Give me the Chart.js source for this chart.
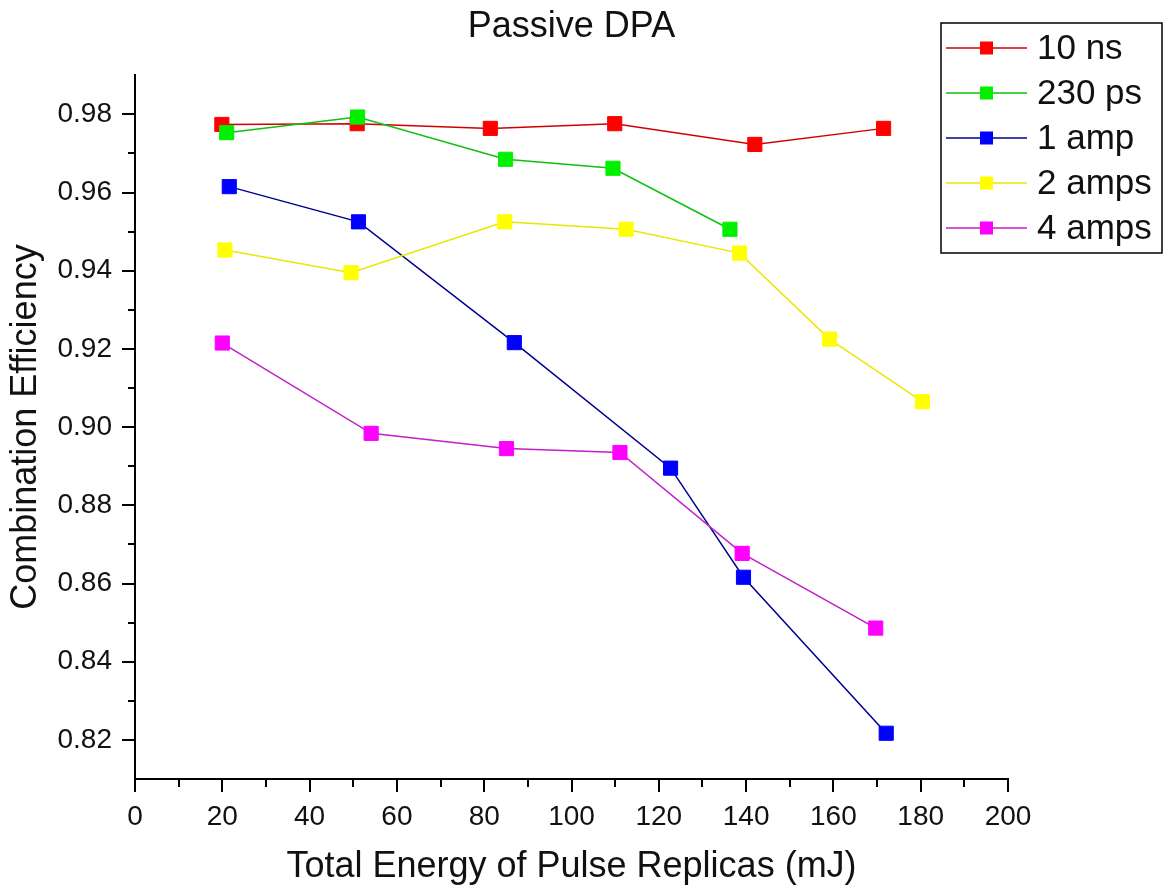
<!DOCTYPE html>
<html>
<head>
<meta charset="utf-8">
<title>Passive DPA</title>
<script src="https://cdn.jsdelivr.net/npm/chart.js@4.4.1/dist/chart.umd.min.js"></script>
<style>
    html, body { margin: 0; padding: 0; background: #fff; }
    canvas { display: block; }
</style>
</head>
<body>
<canvas id="dpaChart" width="1165" height="890"></canvas>
<script>
// Dữ liệu
const seriesLabels = ['10 ns', '230 ps', '1 amp', '2 amps', '4 amps'];

const ns10X = [19.9, 50.9, 81.4, 109.9, 142.0, 171.5];
const ns10Y = [0.9774, 0.9776, 0.9764, 0.9776, 0.9723, 0.9764];

const ps230X = [21.0, 51.0, 84.9, 109.5, 136.3];
const ps230Y = [0.9753, 0.9793, 0.9685, 0.9662, 0.9506];

const amp1X = [21.6, 51.2, 86.9, 122.7, 139.4, 172.1];
const amp1Y = [0.9615, 0.9525, 0.9216, 0.8895, 0.8616, 0.8217];

const amps2X = [20.6, 49.5, 84.7, 112.5, 138.5, 159.1, 180.4];
const amps2Y = [0.9453, 0.9395, 0.9525, 0.9506, 0.9445, 0.9225, 0.9065];

const amps4X = [20.0, 54.1, 85.1, 111.1, 139.1, 169.7];
const amps4Y = [0.9215, 0.8984, 0.8945, 0.8935, 0.8677, 0.8486];

// Vạch chia trục
const xTicks = [0, 20, 40, 60, 80, 100, 120, 140, 160, 180, 200];
const xMinorTicks = [10, 30, 50, 70, 90, 110, 130, 150, 170, 190];
const yTicks = [0.82, 0.84, 0.86, 0.88, 0.90, 0.92, 0.94, 0.96, 0.98];
const yMinorTicks = [0.83, 0.85, 0.87, 0.89, 0.91, 0.93, 0.95, 0.97];

const FONT = "'Liberation Sans', Arial, sans-serif";

function toPoints(xs, ys) {
    return xs.map((x, i) => ({ x: x, y: ys[i] }));
}

function makeSeries(label, xs, ys, lineColor, markColor, order) {
    return {
        label: label,
        data: toPoints(xs, ys),
        borderColor: lineColor,
        backgroundColor: markColor,
        borderWidth: 1.5,
        pointStyle: 'rect',
        pointRadius: 10,
        pointBackgroundColor: markColor,
        pointBorderColor: markColor,
        pointBorderWidth: 1,
        tension: 0,
        order: order
    };
}

// Vạch chia phụ (minor ticks)
const minorTicksPlugin = {
    id: 'minorTicks',
    afterDraw(chart) {
        const ctx = chart.ctx;
        const xs = chart.scales.x;
        const ys = chart.scales.y;
        ctx.save();
        ctx.strokeStyle = '#000';
        ctx.lineWidth = 2;
        ctx.beginPath();
        xMinorTicks.forEach(v => {
            const px = Math.round(xs.getPixelForValue(v));
            ctx.moveTo(px, xs.top);
            ctx.lineTo(px, xs.top + 8);
        });
        yMinorTicks.forEach(v => {
            const py = Math.round(ys.getPixelForValue(v));
            ctx.moveTo(ys.right, py);
            ctx.lineTo(ys.right - 7, py);
        });
        ctx.stroke();
        ctx.restore();
    }
};

// Chú thích dạng hộp ở góc trên bên phải
const boxLegendPlugin = {
    id: 'boxLegend',
    afterDraw(chart) {
        const ctx = chart.ctx;
        const box = { left: 941, top: 23, right: 1162, bottom: 253 };
        ctx.save();
        ctx.fillStyle = '#fff';
        ctx.fillRect(box.left, box.top, box.right - box.left, box.bottom - box.top);
        ctx.strokeStyle = '#000';
        ctx.lineWidth = 1.5;
        ctx.strokeRect(box.left, box.top, box.right - box.left, box.bottom - box.top);

        ctx.font = '35px ' + FONT;
        ctx.textBaseline = 'middle';
        ctx.textAlign = 'left';
        chart.data.datasets.forEach((ds, i) => {
            const cy = 48 + i * 45;
            ctx.strokeStyle = ds.borderColor;
            ctx.lineWidth = 1.5;
            ctx.beginPath();
            ctx.moveTo(946, cy);
            ctx.lineTo(1027, cy);
            ctx.stroke();
            ctx.fillStyle = ds.pointBackgroundColor;
            ctx.fillRect(980, cy - 6.5, 13, 13);
            ctx.fillStyle = '#111';
            ctx.fillText(ds.label, 1037, cy + 1);
        });
        ctx.restore();
    }
};

const ctx = document.getElementById('dpaChart').getContext('2d');
const dpaChart = new Chart(ctx, {
    type: 'line',
    data: {
        datasets: [
            makeSeries(seriesLabels[0], ns10X, ns10Y, '#d00000', '#ff0000', 5),
            makeSeries(seriesLabels[1], ps230X, ps230Y, '#10c010', '#00f000', 4),
            makeSeries(seriesLabels[2], amp1X, amp1Y, '#000090', '#0000ff', 3),
            makeSeries(seriesLabels[3], amps2X, amps2Y, '#e8e800', '#ffff00', 2),
            makeSeries(seriesLabels[4], amps4X, amps4Y, '#c020c8', '#ff00ff', 1)
        ]
    },
    options: {
        responsive: false,
        animation: false,
        layout: {
            padding: { left: 0, right: 157, top: 0, bottom: 0 }
        },
        plugins: {
            legend: { display: false },
            tooltip: { enabled: false },
            title: {
                display: true,
                text: 'Passive DPA',
                fullSize: false,
                color: '#111',
                font: { family: FONT, size: 36, weight: 'normal', lineHeight: 1.2 },
                padding: { top: 5, bottom: 27 }
            }
        },
        scales: {
            x: {
                type: 'linear',
                min: 0,
                max: 200,
                afterBuildTicks(scale) {
                    scale.ticks = xTicks.map(v => ({ value: v }));
                },
                afterFit(scale) {
                    scale.height = 111;
                },
                border: { display: true, color: '#000', width: 2 },
                grid: {
                    drawOnChartArea: false,
                    drawTicks: true,
                    tickLength: 13,
                    tickColor: '#000',
                    tickWidth: 2,
                    lineWidth: 2
                },
                ticks: {
                    color: '#111',
                    padding: 8,
                    maxRotation: 0,
                    autoSkip: false,
                    font: { family: FONT, size: 28 },
                    callback: v => String(v)
                },
                title: {
                    display: true,
                    text: 'Total Energy of Pulse Replicas (mJ)',
                    color: '#111',
                    font: { family: FONT, size: 36, lineHeight: 1.2 },
                    padding: { top: 0, bottom: 1 }
                }
            },
            y: {
                type: 'linear',
                min: 0.81,
                max: 0.99,
                afterBuildTicks(scale) {
                    scale.ticks = yTicks.map(v => ({ value: v }));
                },
                afterFit(scale) {
                    scale.width = 135;
                },
                border: { display: true, color: '#000', width: 2 },
                grid: {
                    drawOnChartArea: false,
                    drawTicks: true,
                    tickLength: 13,
                    tickColor: '#000',
                    tickWidth: 2,
                    lineWidth: 2
                },
                ticks: {
                    color: '#111',
                    padding: 10,
                    autoSkip: false,
                    font: { family: FONT, size: 28 },
                    callback: v => Number(v).toFixed(2)
                },
                title: {
                    display: true,
                    text: 'Combination Efficiency',
                    color: '#111',
                    font: { family: FONT, size: 36, lineHeight: 1.2 },
                    padding: { top: 4, bottom: 0 }
                }
            }
        }
    },
    plugins: [minorTicksPlugin, boxLegendPlugin]
});
</script>
</body>
</html>
